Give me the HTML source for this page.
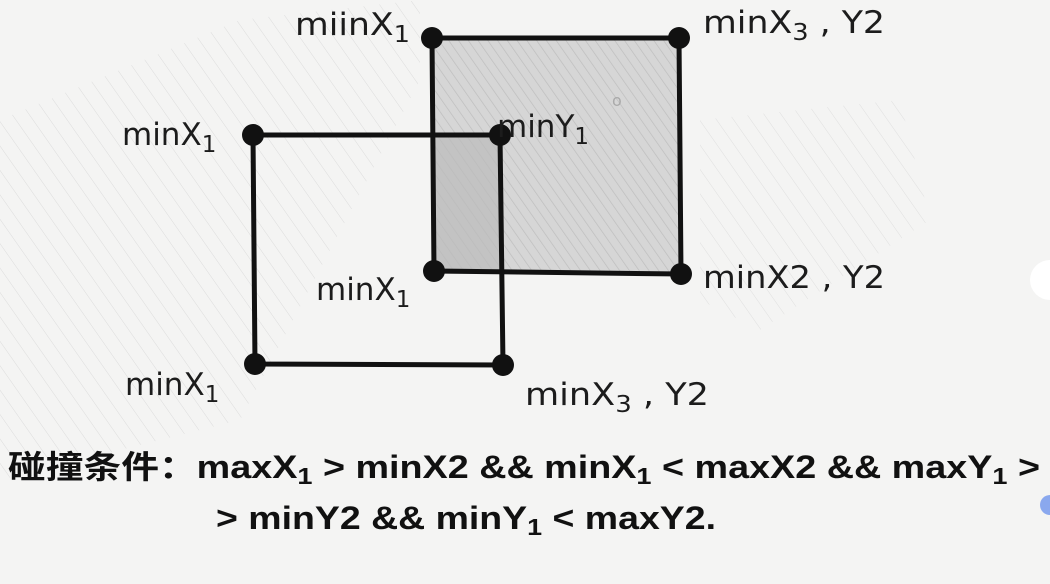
<!DOCTYPE html>
<html><head><meta charset="utf-8"><style>
html,body{margin:0;padding:0;background:#f4f4f3;}
svg{display:block;}
.l{font-family:"DejaVu Sans","Liberation Sans",sans-serif;font-size:31px;fill:#1c1c1c;}
.s{font-size:23px;}
.f{font-family:"Liberation Sans","Noto Sans CJK SC",sans-serif;font-weight:bold;font-size:32px;fill:#111;}
</style></head><body>
<svg width="1050" height="584" viewBox="0 0 1050 584" xmlns="http://www.w3.org/2000/svg">
<defs>
<pattern id="h" width="8" height="8" patternUnits="userSpaceOnUse" patternTransform="rotate(-35)">
<line x1="0" y1="0" x2="0" y2="8" stroke="#bdbdbd" stroke-width="1.4"/>
</pattern>
<pattern id="bg" width="14" height="14" patternUnits="userSpaceOnUse" patternTransform="rotate(-35)">
<line x1="0" y1="0" x2="0" y2="14" stroke="#d6d6d6" stroke-width="1"/>
</pattern>
</defs>
<rect width="1050" height="584" fill="#f4f4f3"/>
<polygon points="0,120 240,20 420,0 420,80 240,420 0,480" fill="url(#bg)" opacity="0.8"/>
<polygon points="700,120 900,100 930,220 760,330 700,300" fill="url(#bg)" opacity="0.7"/>
<circle cx="1050" cy="280" r="20" fill="#fff"/>
<circle cx="1050" cy="505" r="10" fill="#8aa8ee"/>
<rect x="432" y="38" width="248" height="235" fill="#d6d6d6"/>
<rect x="432" y="38" width="248" height="235" fill="url(#h)"/>
<rect x="434" y="136" width="67" height="136" fill="#bbbbbb" opacity="0.7"/>
<path d="M432,38 L679,38 L681,274 L434,271 Z" fill="none" stroke="#111" stroke-width="5"/>
<path d="M253,135 L500,135 L503,365 L255,364 Z" fill="none" stroke="#111" stroke-width="5"/>
<g fill="#111">
<circle cx="432" cy="38" r="11"/><circle cx="679" cy="38" r="11"/>
<circle cx="681" cy="274" r="11"/><circle cx="434" cy="271" r="11"/>
<circle cx="253" cy="135" r="11"/><circle cx="500" cy="135" r="11"/>
<circle cx="503" cy="365" r="11"/><circle cx="255" cy="364" r="11"/>
</g>
<text class="l" x="295" y="35" textLength="115" lengthAdjust="spacingAndGlyphs">miinX<tspan class="s" dy="7">1</tspan></text>
<text class="l" x="703" y="33" textLength="182" lengthAdjust="spacingAndGlyphs">minX<tspan class="s" dy="7">3</tspan><tspan dy="-7"> , Y2</tspan></text>
<text class="l" x="122" y="145">minX<tspan class="s" dy="7">1</tspan></text>
<text class="l" x="497" y="137">minY<tspan class="s" dy="7">1</tspan></text>
<text class="l" x="612" y="106" style="font-size:16px;fill:#aaa">o</text>
<text class="l" x="316" y="300">minX<tspan class="s" dy="7">1</tspan></text>
<text class="l" x="703" y="288" textLength="182" lengthAdjust="spacingAndGlyphs">minX2 , Y2</text>
<text class="l" x="125" y="395">minX<tspan class="s" dy="7">1</tspan></text>
<text class="l" x="525" y="405" textLength="184" lengthAdjust="spacingAndGlyphs">minX<tspan class="s" dy="7">3</tspan><tspan dy="-7"> , Y2</tspan></text>
<text class="f" x="8" y="478" textLength="1032" lengthAdjust="spacingAndGlyphs">碰撞条件：maxX<tspan font-size="23" dy="6">1</tspan><tspan dy="-6"> &gt; minX2 &amp;&amp; minX</tspan><tspan font-size="23" dy="6">1</tspan><tspan dy="-6"> &lt; maxX2 &amp;&amp; maxY</tspan><tspan font-size="23" dy="6">1</tspan><tspan dy="-6"> &gt;</tspan></text>
<text class="f" x="216" y="529" textLength="500" lengthAdjust="spacingAndGlyphs">&gt; minY2 &amp;&amp; minY<tspan font-size="23" dy="6">1</tspan><tspan dy="-6"> &lt; maxY2.</tspan></text>
</svg>
</body></html>
